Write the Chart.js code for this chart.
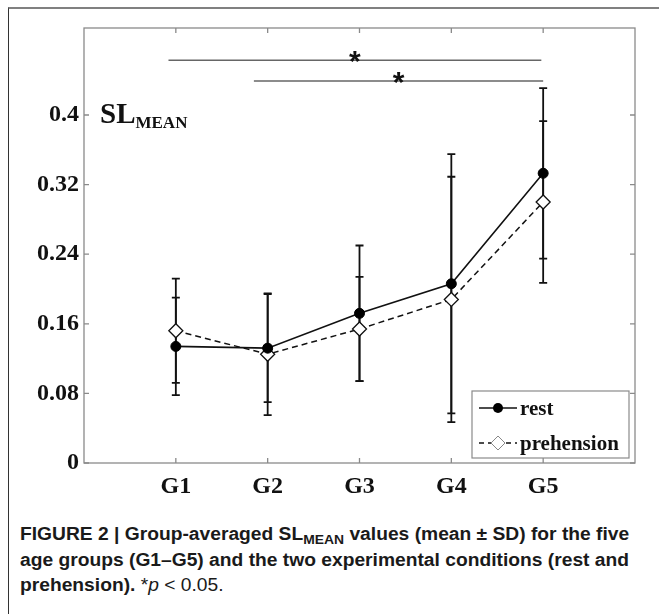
<!DOCTYPE html>
<html lang="en">
<head>
  <meta charset="UTF-8">
  <title>Group-averaged SL MEAN</title>
  <script src="https://cdn.jsdelivr.net/npm/chart.js"></script>
  <style>
    body { margin: 0; background: #fff; }
    #frame {
      position: absolute; left: 8px; top: 7px; width: 651px; height: 607px;
      border-left: 1.5px solid #333; border-top: 2px solid #808080;
    }
    #chartBox { position: absolute; left: 0; top: 0; width: 659px; height: 500px; }
    #caption {
      position: absolute; left: 20px; top: 522px;
      font-family: "Liberation Sans", Arial, sans-serif; font-weight: bold;
      font-size: 18px; line-height: 25.5px; color: #1a1a1a;
      white-space: nowrap; transform-origin: 0 0;
    }
    #caption .sub { font-size: 13px; vertical-align: -4px; line-height: 0; }
    #caption .normal { font-weight: normal; }
  </style>
</head>
<body>
  <div id="frame"></div>
  <div id="chartBox"><canvas id="slChart" width="659" height="500"></canvas></div>
  <div id="caption">
    <span id="cap1">FIGURE 2 | Group-averaged SL<span class="sub">MEAN</span> values (mean ± SD) for the five</span><br>
    <span id="cap2">age groups (G1–G5) and the two experimental conditions (rest and</span><br>
    <span id="cap3">prehension).<span class="normal"> *<i>p</i> &lt; 0.05.</span></span>
  </div>

  <script>
    // values
    const categories = ["G1", "G2", "G3", "G4", "G5"];
    const restMean = [0.134, 0.132, 0.172, 0.206, 0.333];
    const restSD = [0.056, 0.062, 0.078, 0.149, 0.098];
    const prehMean = [0.152, 0.125, 0.154, 0.188, 0.300];
    const prehSD = [0.060, 0.070, 0.060, 0.141, 0.093];
    const yTicks = [0, 0.08, 0.16, 0.24, 0.32, 0.4];
    const yTickLabels = ["0", "0.08", "0.16", "0.24", "0.32", "0.4"];
    // significance bars: start, end (group position) and height
    const sigFrom = [0.92, 1.85];
    const sigTo = [4.98, 5.0];
    const sigY = [0.463, 0.439];

    const toPoints = means => means.map((m, i) => ({ x: i + 1, y: m }));

    // axis box with inward ticks on all four sides
    const boxPlugin = {
      id: "boxPlugin",
      beforeDatasetsDraw(chart) {
        const { ctx, chartArea: a, scales: { x, y } } = chart;
        ctx.save();
        ctx.strokeStyle = "#8a8a8a";
        ctx.lineWidth = 1.3;
        ctx.strokeRect(a.left, a.top, a.right - a.left, a.bottom - a.top);
        ctx.beginPath();
        categories.forEach((c, i) => {
          const px = x.getPixelForValue(i + 1);
          ctx.moveTo(px, a.bottom); ctx.lineTo(px, a.bottom - 5);
          ctx.moveTo(px, a.top); ctx.lineTo(px, a.top + 5);
        });
        yTicks.forEach(v => {
          const py = y.getPixelForValue(v);
          ctx.moveTo(a.left, py); ctx.lineTo(a.left + 5, py);
          ctx.moveTo(a.right, py); ctx.lineTo(a.right - 5, py);
        });
        ctx.stroke();
        ctx.restore();
      }
    };

    const errorBars = {
      id: "errorBars",
      beforeDatasetsDraw(chart) {
        const { ctx, scales: { x, y } } = chart;
        ctx.save();
        ctx.strokeStyle = "#111";
        ctx.lineWidth = 1.8;
        [[restMean, restSD], [prehMean, prehSD]].forEach(([m, s]) => {
          m.forEach((v, i) => {
            const px = x.getPixelForValue(i + 1);
            const top = y.getPixelForValue(v + s[i]);
            const bot = y.getPixelForValue(v - s[i]);
            ctx.beginPath();
            ctx.moveTo(px, top); ctx.lineTo(px, bot);
            ctx.moveTo(px - 4, top); ctx.lineTo(px + 4, top);
            ctx.moveTo(px - 4, bot); ctx.lineTo(px + 4, bot);
            ctx.stroke();
          });
        });
        ctx.restore();
      }
    };

    const extras = {
      id: "extras",
      afterDraw(chart) {
        const { ctx, chartArea: a, scales: { x, y } } = chart;
        ctx.save();

        // significance lines and stars
        ctx.strokeStyle = "#666";
        ctx.lineWidth = 1.5;
        ctx.fillStyle = "#111";
        ctx.font = "bold 30px 'Liberation Sans'";
        ctx.textAlign = "center";
        ctx.textBaseline = "alphabetic";
        sigY.forEach((v, i) => {
          const x1 = x.getPixelForValue(sigFrom[i]);
          const x2 = x.getPixelForValue(sigTo[i]);
          const py = y.getPixelForValue(v);
          ctx.beginPath(); ctx.moveTo(x1, py); ctx.lineTo(x2, py); ctx.stroke();
          ctx.fillText("*", (x1 + x2) / 2, py + 11);
        });

        // SL_MEAN label
        ctx.textAlign = "left";
        const base = y.getPixelForValue(0.4) + 8;
        ctx.font = "bold 29px 'Liberation Serif'";
        ctx.fillText("SL", a.left + 16, base);
        const w = ctx.measureText("SL").width;
        ctx.font = "bold 17px 'Liberation Serif'";
        ctx.fillText("MEAN", a.left + 16 + w, base + 5);

        // legend
        const bx = a.right - 163, by = a.bottom - 72, bw = 157, bh = 67;
        ctx.fillStyle = "#fff";
        ctx.fillRect(bx, by, bw, bh);
        ctx.strokeStyle = "#8a8a8a";
        ctx.lineWidth = 1.2;
        ctx.strokeRect(bx, by, bw, bh);
        const rows = [
          { label: "rest", dash: [], y: by + 17 },
          { label: "prehension", dash: [5, 4], y: by + 52 }
        ];
        rows.forEach((r, i) => {
          ctx.strokeStyle = "#111";
          ctx.lineWidth = 1.5;
          ctx.setLineDash(r.dash);
          ctx.beginPath(); ctx.moveTo(bx + 7, r.y); ctx.lineTo(bx + 45, r.y); ctx.stroke();
          ctx.setLineDash([]);
          const cx = bx + 26;
          if (i === 0) {
            ctx.fillStyle = "#000";
            ctx.beginPath(); ctx.arc(cx, r.y, 5, 0, Math.PI * 2); ctx.fill();
          } else {
            ctx.fillStyle = "#fff";
            ctx.strokeStyle = "#888";
            ctx.lineWidth = 1;
            ctx.beginPath();
            ctx.moveTo(cx, r.y - 7); ctx.lineTo(cx + 7, r.y);
            ctx.lineTo(cx, r.y + 7); ctx.lineTo(cx - 7, r.y); ctx.closePath();
            ctx.fill(); ctx.stroke();
          }
          ctx.fillStyle = "#111";
          ctx.font = "bold 21px 'Liberation Serif'";
          ctx.textBaseline = "alphabetic";
          ctx.fillText(r.label, bx + 48, r.y + 7);
        });
        ctx.restore();
      }
    };

    const tickFont = { family: "'Liberation Serif'", weight: "bold", size: 24 };

    new Chart(document.getElementById("slChart").getContext("2d"), {
      type: "line",
      data: {
        datasets: [
          {
            label: "rest",
            data: toPoints(restMean),
            borderColor: "#111",
            borderWidth: 1.6,
            pointStyle: "circle",
            pointRadius: 5,
            pointBackgroundColor: "#000",
            pointBorderColor: "#000",
            pointBorderWidth: 1
          },
          {
            label: "prehension",
            data: toPoints(prehMean),
            borderColor: "#111",
            borderWidth: 1.5,
            borderDash: [6, 4],
            pointStyle: "rectRot",
            pointRadius: 7,
            pointBackgroundColor: "#fff",
            pointBorderColor: "#111",
            pointBorderWidth: 1.3
          }
        ]
      },
      options: {
        responsive: false,
        animation: false,
        layout: { padding: { left: 0, top: 28, right: 24, bottom: 0 } },
        plugins: { legend: { display: false }, tooltip: { enabled: false } },
        scales: {
          x: {
            type: "linear",
            min: 0,
            max: 6,
            afterBuildTicks: ax => { ax.ticks = categories.map((c, i) => ({ value: i + 1 })); },
            afterFit: ax => { ax.height = 37; },
            grid: { display: false, drawTicks: false },
            border: { display: false },
            ticks: {
              autoSkip: false, maxRotation: 0, padding: 9, color: "#111", font: tickFont,
              callback: (v, i) => categories[i]
            }
          },
          y: {
            min: 0,
            max: 0.5,
            afterBuildTicks: ax => { ax.ticks = yTicks.map(v => ({ value: v })); },
            afterFit: ax => { ax.width = 84; },
            grid: { display: false, drawTicks: false },
            border: { display: false },
            ticks: {
              padding: 5, color: "#111", font: tickFont,
              callback: (v, i) => yTickLabels[i]
            }
          }
        }
      },
      plugins: [boxPlugin, errorBars, extras]
    });

    // squeeze the caption to the condensed width of the original
    const cap = document.getElementById("caption");
    const s = 609 / document.getElementById("cap2").getBoundingClientRect().width;
    cap.style.transform = `scaleX(${s})`;
  </script>
</body>
</html>
